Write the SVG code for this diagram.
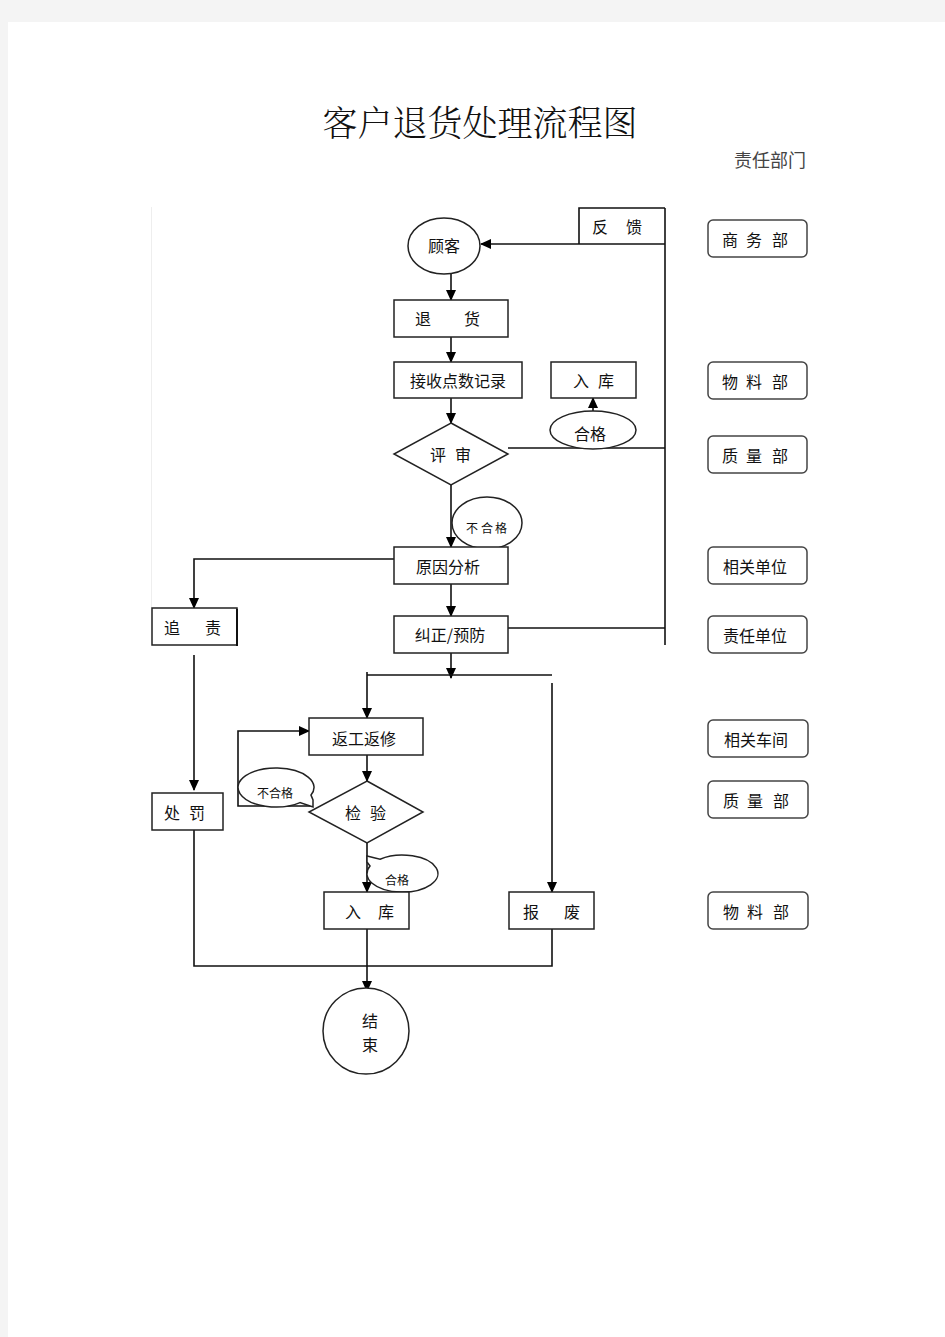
<svg xmlns="http://www.w3.org/2000/svg" width="945" height="1337" viewBox="0 0 945 1337">
<defs>
<style>
.box{fill:#fff;stroke:#222;stroke-width:1.5}
.dept{fill:#fff;stroke:#444;stroke-width:1.5}
.ln{fill:none;stroke:#111;stroke-width:1.6}
.t{font-family:"Noto Sans CJK SC","Noto Sans CJK TC",sans-serif;font-size:16px;fill:#111;dominant-baseline:central}
.s{font-family:"Noto Sans CJK SC",sans-serif;font-size:12px;fill:#111;dominant-baseline:central}
</style>
<marker id="ah" markerWidth="11" markerHeight="10" refX="10" refY="5" orient="auto" markerUnits="userSpaceOnUse">
<path d="M0,0 L11,5 L0,10 Z" fill="#000"/>
</marker>
</defs>
<rect x="0" y="0" width="945" height="1337" fill="#f4f4f4"/>
<rect x="8" y="22" width="937" height="1315" fill="#fff"/>
<line x1="151.5" y1="207" x2="151.5" y2="608" stroke="#eeeeee" stroke-width="1"/>

<text x="480" y="121" text-anchor="middle" font-family="Noto Serif CJK SC,Noto Sans CJK SC,serif" font-size="35" font-weight="300" fill="#111" dominant-baseline="central">客户退货处理流程图</text>
<text x="770" y="159" text-anchor="middle" font-family="Noto Sans CJK SC,sans-serif" font-size="18" fill="#444" dominant-baseline="central">责任部门</text>

<g id="connectors">
<line class="ln" x1="665" y1="208" x2="665" y2="645" stroke-width="2"/>
<line class="ln" x1="665" y1="244" x2="481" y2="244" marker-end="url(#ah)"/>
<line class="ln" x1="451" y1="274" x2="451" y2="300" marker-end="url(#ah)"/>
<line class="ln" x1="451" y1="337" x2="451" y2="362" marker-end="url(#ah)"/>
<line class="ln" x1="451" y1="398" x2="451" y2="423" marker-end="url(#ah)"/>
<line class="ln" x1="593" y1="411" x2="593" y2="398" marker-end="url(#ah)"/>
<line class="ln" x1="508" y1="448" x2="665" y2="448"/>
<line class="ln" x1="451" y1="485" x2="451" y2="547" marker-end="url(#ah)"/>
<polyline class="ln" points="394,559 194,559 194,608" stroke="#444" marker-end="url(#ah)"/>
<line class="ln" x1="451" y1="584" x2="451" y2="616" marker-end="url(#ah)"/>
<line class="ln" x1="508" y1="628" x2="665" y2="628" stroke="#444"/>
<line class="ln" x1="451" y1="653" x2="451" y2="678" marker-end="url(#ah)"/>
<line class="ln" x1="367" y1="675" x2="552" y2="675"/>
<line class="ln" x1="367" y1="672" x2="367" y2="718" marker-end="url(#ah)"/>
<line class="ln" x1="552" y1="683" x2="552" y2="892" marker-end="url(#ah)"/>
<line class="ln" x1="194" y1="655" x2="194" y2="790" marker-end="url(#ah)"/>
<line class="ln" x1="367" y1="755" x2="367" y2="781" marker-end="url(#ah)"/>
<polyline class="ln" points="312,806 238,806 238,731 309,731" marker-end="url(#ah)"/>
<line class="ln" x1="367" y1="843" x2="367" y2="892" marker-end="url(#ah)"/>
<polyline class="ln" points="194,830 194,966 552,966 552,929" stroke-width="1.3"/>
<line class="ln" x1="367" y1="929" x2="367" y2="991" marker-end="url(#ah)"/>
</g>

<g id="n-feedback"><polyline points="665,208 579,208 579,244" fill="none" stroke="#111" stroke-width="1.6"/><text class="t" x="592 626" y="226">反馈</text></g>
<g id="n-customer"><ellipse cx="444" cy="246" rx="36" ry="28" class="box"/><text class="t" x="444" y="245" text-anchor="middle">顾客</text></g>
<g id="n-return"><rect x="394" y="300" width="114" height="37" class="box"/><text class="t" x="415 464" y="318">退货</text></g>
<g id="n-receive"><rect x="394" y="362" width="128" height="36" class="box"/><text class="t" x="458" y="380" text-anchor="middle" font-size="16.5">接收点数记录</text></g>
<g id="n-stock1"><rect x="551" y="362" width="85" height="36" class="box"/><text class="t" x="573 598" y="380">入库</text></g>
<g id="n-pass1"><ellipse cx="593" cy="430" rx="43" ry="19" class="box"/><text class="t" x="590" y="433" text-anchor="middle">合格</text></g>
<g id="n-review"><polygon points="451,423 508,454 451,485 394,454" class="box"/><text class="t" x="430 455" y="454">评审</text></g>
<g id="n-fail1"><ellipse cx="487" cy="523" rx="35" ry="26" class="box"/><text class="s" x="466 481 495" y="527">不合格</text></g>
<g id="n-cause"><rect x="394" y="547" width="114" height="37" class="box"/><text class="t" x="448" y="566" text-anchor="middle" font-size="16.5">原因分析</text></g>
<g id="n-blame"><rect x="152" y="608" width="85" height="37" class="box"/><line x1="237" y1="609" x2="237" y2="646" stroke="#111" stroke-width="2"/><text class="t" x="164 205" y="627">追责</text></g>
<g id="n-correct"><rect x="394" y="616" width="114" height="37" class="box"/><text class="t" x="450" y="634" text-anchor="middle">纠正/预防</text></g>
<g id="n-rework"><rect x="309" y="718" width="114" height="37" class="box"/><text class="t" x="364" y="738" text-anchor="middle">返工返修</text></g>
<g id="n-inspect"><polygon points="367,781 423,812 367,843 309,812" class="box"/><text class="t" x="345 370" y="812">检验</text></g>
<g id="n-fail2"><path d="M311,795.1 L313,800 L313,807 L300,802.6 A38,19.5 0 1 1 311,795.1 Z" class="box"/><text class="s" x="275" y="792" text-anchor="middle">不合格</text></g>
<g id="n-pass2"><path d="M370,866 L367,862 L367,856 L380,859.2 A35.5,18.5 0 1 1 370,866 Z" class="box"/><text class="s" x="397" y="879" text-anchor="middle">合格</text></g>
<g id="n-punish"><rect x="152" y="793" width="71" height="37" class="box"/><text class="t" x="164 189" y="812">处罚</text></g>
<g id="n-stock2"><rect x="324" y="892" width="85" height="37" class="box"/><text class="t" x="345 378" y="911">入库</text></g>
<g id="n-scrap"><rect x="509" y="892" width="85" height="37" class="box"/><text class="t" x="523 564" y="911">报废</text></g>
<g id="n-end"><circle cx="366" cy="1031" r="43" class="box"/><text class="t" x="370" y="1020" text-anchor="middle">结</text><text class="t" x="370" y="1044" text-anchor="middle">束</text></g>

<g id="d-1"><rect x="708" y="220" width="99" height="37" rx="5" class="dept"/><text class="t" x="722 746 772" y="239">商务部</text></g>
<g id="d-2"><rect x="708" y="362" width="99" height="37" rx="5" class="dept"/><text class="t" x="722 746 772" y="381">物料部</text></g>
<g id="d-3"><rect x="708" y="436" width="99" height="37" rx="5" class="dept"/><text class="t" x="722 746 772" y="455">质量部</text></g>
<g id="d-4"><rect x="708" y="547" width="99" height="37" rx="5" class="dept"/><text class="t" x="755" y="566" text-anchor="middle" font-size="16.5">相关单位</text></g>
<g id="d-5"><rect x="708" y="616" width="99" height="37" rx="5" class="dept"/><text class="t" x="755" y="635" text-anchor="middle" font-size="16.5">责任单位</text></g>
<g id="d-6"><rect x="708" y="720" width="100" height="37" rx="5" class="dept"/><text class="t" x="756" y="739" text-anchor="middle" font-size="16.5">相关车间</text></g>
<g id="d-7"><rect x="708" y="781" width="100" height="37" rx="5" class="dept"/><text class="t" x="723 747 773" y="800">质量部</text></g>
<g id="d-8"><rect x="708" y="892" width="100" height="37" rx="5" class="dept"/><text class="t" x="723 747 773" y="911">物料部</text></g>
</svg>
